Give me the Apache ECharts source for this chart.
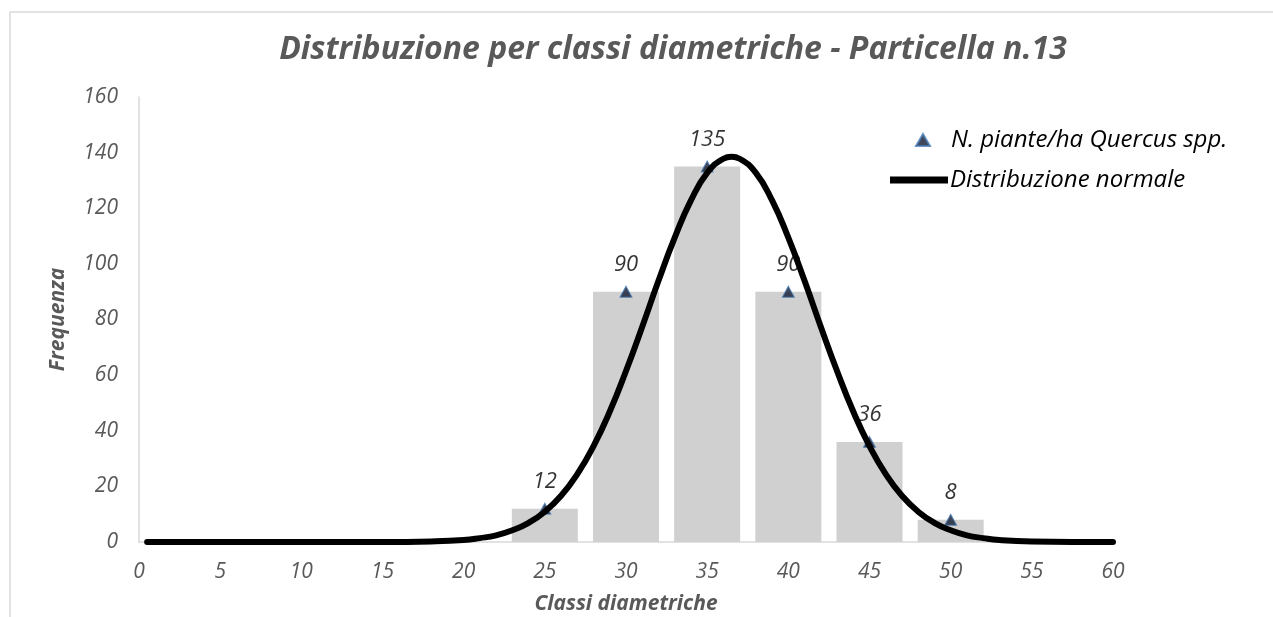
<!DOCTYPE html>
<html>
<head>
<meta charset="utf-8">
<script src="https://cdn.jsdelivr.net/npm/echarts@6/dist/echarts.min.js"></script>
<style>
  html, body { margin: 0; padding: 0; background: #fff; }
  #chart { width: 1273px; height: 617px; }
</style>
</head>
<body>
<div id="chart"></div>
<script>
// classi diametriche (cm) e piante/ha
let classi = [25, 30, 35, 40, 45, 50]
let piante = [12, 90, 135, 90, 36, 8]

// curva normale
let curvaX = [0.5, 5, 10, 15, 18, 20, 21, 22, 23, 24, 25, 26, 27, 28, 29, 30, 31, 32, 33, 34, 35, 36, 36.5,
  37, 38, 39, 40, 41, 42, 43, 44, 45, 46, 47, 48, 49, 50, 51, 52, 53, 55, 60]
let curvaY = [0, 0, 0, 0, 0.2, 0.7, 1.4, 2.4, 4.2, 6.9, 10.9, 16.6, 24.4, 34.5, 46.9, 61.5, 77.4, 93.9, 109.4, 122.8, 132.7, 137.8, 138.5,
  137.8, 132.7, 122.8, 109.4, 93.9, 77.4, 61.5, 46.9, 34.5, 24.4, 16.6, 10.9, 6.9, 4.2, 2.4, 1.4, 0.7, 0.2, 0]

let fontFam = '"Open Sans", "Noto Sans", sans-serif'
let grigio = '#595959'

let barData = []
for (let i = 0; i < classi.length; i++) {
  barData.push([classi[i], piante[i]])
}
let curvaData = []
for (let i = 0; i < curvaX.length; i++) {
  curvaData.push([curvaX[i], curvaY[i]])
}

let option = {
  animation: false,
  backgroundColor: '#fff',
  textStyle: { fontFamily: fontFam },
  graphic: [
    {
      type: 'rect',
      shape: { x: 10, y: 12, width: 1400, height: 800 },
      style: { fill: null, stroke: '#d9d9d9', lineWidth: 1.5 },
      silent: true
    }
  ],
  title: {
    text: 'Distribuzione per classi diametriche - Particella n.13',
    left: 668,
    textAlign: 'center',
    top: 29,
    textStyle: {
      fontFamily: fontFam,
      fontSize: 32,
      fontStyle: 'italic',
      fontWeight: 'bold',
      color: grigio
    }
  },
  legend: [
    {
      data: [{ name: 'N. piante/ha Quercus spp.', icon: 'triangle' }],
      left: 910,
      top: 123,
      itemWidth: 14,
      itemHeight: 12,
      textStyle: { fontSize: 24, fontStyle: 'italic', color: '#000', padding: [0, 0, 0, 16] }
    },
    {
      data: [{ name: 'Distribuzione normale', icon: 'rect' }],
      left: 885,
      top: 163,
      itemWidth: 58,
      itemHeight: 7,
      textStyle: { fontSize: 24, fontStyle: 'italic', color: '#000', padding: [0, 0, 0, -3] }
    }
  ],
  grid: {
    left: 139,
    right: 160,
    top: 97,
    bottom: 75,
    outerBoundsMode: 'none'
  },
  xAxis: {
    type: 'value',
    min: 0,
    max: 60,
    interval: 5,
    name: 'Classi diametriche',
    nameLocation: 'middle',
    nameGap: 52,
    nameTextStyle: { fontSize: 21, fontStyle: 'italic', fontWeight: 'bold', color: grigio },
    axisLine: { lineStyle: { color: '#d9d9d9', width: 1.5 } },
    axisTick: { show: false },
    splitLine: { show: false },
    axisLabel: { fontSize: 21, fontStyle: 'italic', color: grigio, margin: 20 }
  },
  yAxis: {
    type: 'value',
    min: 0,
    max: 160,
    interval: 20,
    name: 'Frequenza',
    nameLocation: 'middle',
    nameGap: 70,
    nameTextStyle: { fontSize: 21, fontStyle: 'italic', fontWeight: 'bold', color: grigio },
    axisLine: { show: true, lineStyle: { color: '#d9d9d9', width: 1.5 } },
    axisTick: { show: false },
    splitLine: { show: false },
    axisLabel: { fontSize: 21, fontStyle: 'italic', color: grigio, margin: 21 }
  },
  series: [
    {
      name: 'istogramma',
      type: 'bar',
      data: barData,
      barWidth: 66,
      itemStyle: { color: '#d0d0d0' },
      z: 1
    },
    {
      name: 'N. piante/ha Quercus spp.',
      type: 'scatter',
      data: barData,
      symbol: 'triangle',
      symbolSize: [12, 11],
      itemStyle: { color: '#101b33', borderColor: '#4a7db8', borderWidth: 1 },
      label: {
        show: true,
        position: 'top',
        distance: 10,
        fontSize: 22,
        fontStyle: 'italic',
        color: '#000',
        formatter: function (p) { return p.value[1] }
      },
      z: 2
    },
    {
      name: 'Distribuzione normale',
      type: 'line',
      data: curvaData,
      smooth: true,
      showSymbol: false,
      lineStyle: { color: '#000', width: 6, cap: 'round' },
      itemStyle: { color: '#000' },
      z: 5
    }
  ]
}

let chart = echarts.init(document.getElementById('chart'))
chart.setOption(option)
</script>
</body>
</html>
